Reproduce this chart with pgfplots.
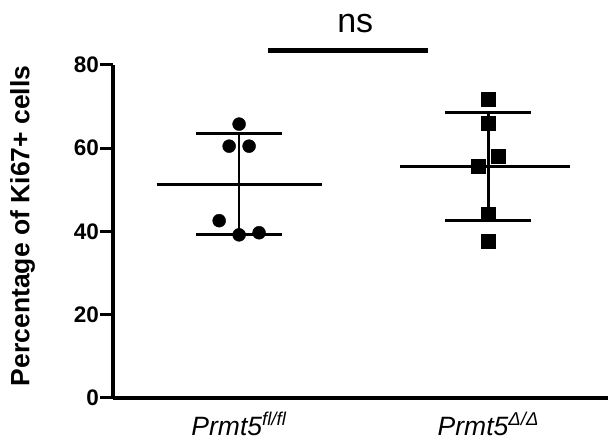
\documentclass[border=0pt]{standalone}
\usepackage{fontspec}
\setmainfont{Liberation Sans}
\usepackage{pgfplots}
\pgfplotsset{compat=1.18}

\begin{document}
\begin{tikzpicture}
\begin{axis}[
    scale only axis,
    width=495pt, height=333pt,
    xmin=0.494, xmax=2.48,
    ymin=0, ymax=80,
    axis x line=bottom, axis y line=left,
    axis line style={line width=3.7pt, -},
    ytick={0,20,40,60,80},
    xtick={1,2},
    xticklabels={\textit{Prmt5}\textsuperscript{\textit{fl/fl}},\textit{Prmt5}\textsuperscript{\textit{Δ/Δ}}},
    tick align=outside,
    major tick length=13pt,
    y tick style={line width=3pt, black},
    x tick style={draw=none},
    /pgf/number format/assume math mode=true,
    yticklabel style={font=\fontsize{22.5}{26}\selectfont\bfseries, inner sep=1pt},
    xticklabel style={font=\fontsize{26.5}{29}\selectfont, yshift=2pt},
    ylabel={Percentage of Ki67+ cells},
    ylabel style={font=\fontsize{26.5}{30}\selectfont\bfseries,
        at={(axis description cs:-0.1505,0.517)}, anchor=south},
    clip=false,
]
\coordinate (O) at (axis cs:0.494,0);
% group 1: mean and SD
\addplot[black, line width=3pt] coordinates {(0.669,51.4) (1.331,51.4)};
\addplot[black, line width=3pt] coordinates {(0.829,63.5) (1.171,63.5)};
\addplot[black, line width=3pt] coordinates {(0.829,39.2) (1.171,39.2)};
\addplot[black, line width=2.5pt] coordinates {(1,39.2) (1,63.5)};
% group 2: mean and SD
\addplot[black, line width=3pt] coordinates {(1.647,55.6) (2.329,55.6)};
\addplot[black, line width=3pt] coordinates {(1.827,68.5) (2.171,68.5)};
\addplot[black, line width=3pt] coordinates {(1.827,42.7) (2.171,42.7)};
\addplot[black, line width=2.5pt] coordinates {(2,42.7) (2,68.5)};
% points
\addplot[only marks, mark=*, mark size=6.5pt, black] coordinates {
    (1,65.8) (0.96,60.5) (1.04,60.5) (0.92,42.6) (1,39.2) (1.08,39.7)
};
\addplot[only marks, mark=square*, mark size=7pt, black] coordinates {
    (2,71.8) (2,65.9) (2.038,58.1) (1.96,55.6) (2,44.2) (2,37.6)
};
% significance bar
\addplot[black, line width=5pt] coordinates {(1.116,83.6) (1.759,83.6)};
\node[font=\fontsize{34}{38}\selectfont, anchor=base] at (axis cs:1.466,87.7) {ns};
\end{axis}
\pgfresetboundingbox
\path ([shift={(-113pt,-43pt)}]O) rectangle ([shift={(495pt,398pt)}]O);
\end{tikzpicture}
\end{document}
